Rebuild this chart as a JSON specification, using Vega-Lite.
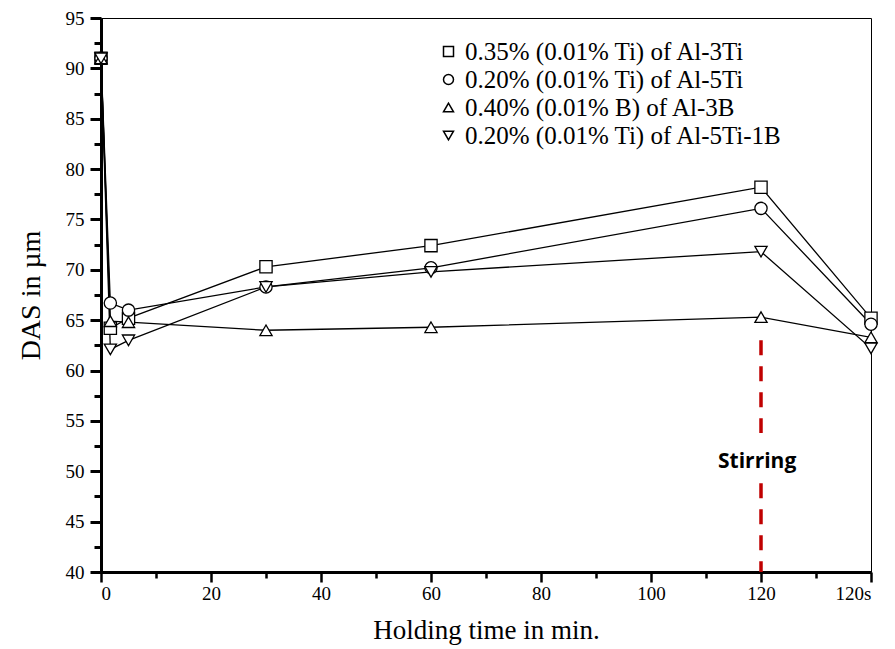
{
  "$schema": "https://vega.github.io/schema/vega-lite/v6.json",
  "width": 770,
  "height": 554,
  "autosize": {"type": "none"},
  "padding": {"left": 101, "top": 18, "right": 24, "bottom": 77},
  "background": "white",
  "config": {
    "view": {"stroke": "black", "strokeWidth": 1},
    "axis": {
      "labelFont": "Liberation Serif",
      "titleFont": "Liberation Serif",
      "labelColor": "black",
      "titleColor": "black",
      "domainColor": "black",
      "tickColor": "black",
      "grid": false,
      "titleFontWeight": "normal"
    }
  },
  "data": {
    "values": [
      {"t": 0, "das": 91, "series": "0.35% (0.01% Ti) of Al-3Ti"},
      {"t": 1.7, "das": 64.2, "series": "0.35% (0.01% Ti) of Al-3Ti"},
      {"t": 5, "das": 65.2, "series": "0.35% (0.01% Ti) of Al-3Ti"},
      {"t": 30, "das": 70.3, "series": "0.35% (0.01% Ti) of Al-3Ti"},
      {"t": 60, "das": 72.4, "series": "0.35% (0.01% Ti) of Al-3Ti"},
      {"t": 120, "das": 78.2, "series": "0.35% (0.01% Ti) of Al-3Ti"},
      {"t": 140, "das": 65.2, "series": "0.35% (0.01% Ti) of Al-3Ti"},
      {"t": 0, "das": 91, "series": "0.20% (0.01% Ti) of Al-5Ti"},
      {"t": 1.7, "das": 66.7, "series": "0.20% (0.01% Ti) of Al-5Ti"},
      {"t": 5, "das": 66.0, "series": "0.20% (0.01% Ti) of Al-5Ti"},
      {"t": 30, "das": 68.3, "series": "0.20% (0.01% Ti) of Al-5Ti"},
      {"t": 60, "das": 70.2, "series": "0.20% (0.01% Ti) of Al-5Ti"},
      {"t": 120, "das": 76.1, "series": "0.20% (0.01% Ti) of Al-5Ti"},
      {"t": 140, "das": 64.6, "series": "0.20% (0.01% Ti) of Al-5Ti"},
      {"t": 0, "das": 91, "series": "0.40% (0.01% B)  of Al-3B"},
      {"t": 1.7, "das": 64.9, "series": "0.40% (0.01% B)  of Al-3B"},
      {"t": 5, "das": 64.8, "series": "0.40% (0.01% B)  of Al-3B"},
      {"t": 30, "das": 64.0, "series": "0.40% (0.01% B)  of Al-3B"},
      {"t": 60, "das": 64.3, "series": "0.40% (0.01% B)  of Al-3B"},
      {"t": 120, "das": 65.3, "series": "0.40% (0.01% B)  of Al-3B"},
      {"t": 140, "das": 63.3, "series": "0.40% (0.01% B)  of Al-3B"},
      {"t": 0, "das": 91, "series": "0.20% (0.01% Ti) of Al-5Ti-1B"},
      {"t": 1.7, "das": 62.1, "series": "0.20% (0.01% Ti) of Al-5Ti-1B"},
      {"t": 5, "das": 63.0, "series": "0.20% (0.01% Ti) of Al-5Ti-1B"},
      {"t": 30, "das": 68.3, "series": "0.20% (0.01% Ti) of Al-5Ti-1B"},
      {"t": 60, "das": 69.8, "series": "0.20% (0.01% Ti) of Al-5Ti-1B"},
      {"t": 120, "das": 71.8, "series": "0.20% (0.01% Ti) of Al-5Ti-1B"},
      {"t": 140, "das": 62.2, "series": "0.20% (0.01% Ti) of Al-5Ti-1B"}
    ]
  },
  "encoding": {
    "x": {
      "field": "t",
      "type": "quantitative",
      "scale": {"domain": [0, 140], "nice": false, "zero": false},
      "axis": {
        "title": "Holding time in min.",
        "titleFontSize": 27,
        "titlePadding": 14,
        "labelFontSize": 19,
        "labelPadding": 2,
        "values": [0, 10, 20, 30, 40, 50, 60, 70, 80, 90, 100, 110, 120, 130, 140],
        "labelExpr": "datum.value == 140 ? '120s' : (datum.value % 20 == 0 ? datum.label : '')",
        "domainWidth": 3,
        "tickWidth": 2.5,
        "tickSize": {"condition": {"test": "datum.value % 20 != 0", "value": 6}, "value": 10}
      }
    },
    "y": {
      "field": "das",
      "type": "quantitative",
      "scale": {"domain": [40, 95], "nice": false, "zero": false},
      "axis": {
        "title": "DAS in µm",
        "titleFontSize": 28,
        "titlePadding": 20,
        "labelFontSize": 19,
        "labelPadding": 6,
        "values": [40, 42.5, 45, 47.5, 50, 52.5, 55, 57.5, 60, 62.5, 65, 67.5, 70, 72.5, 75, 77.5, 80, 82.5, 85, 87.5, 90, 92.5, 95],
        "labelExpr": "datum.value % 5 == 0 ? datum.label : ''",
        "domainWidth": 3,
        "tickWidth": 3,
        "tickSize": {"condition": {"test": "datum.value % 5 != 0", "value": 7}, "value": 11}
      }
    }
  },
  "layer": [
    {
      "mark": {"type": "line", "color": "black", "strokeWidth": 1.3, "clip": true},
      "encoding": {
        "detail": {"field": "series"},
        "order": {"field": "t"}
      }
    },
    {
      "mark": {"type": "point", "filled": true, "color": "white", "stroke": "black", "strokeWidth": 1.3, "size": 150, "opacity": 1},
      "encoding": {
        "shape": {
          "field": "series",
          "type": "nominal",
          "scale": {
            "domain": ["0.35% (0.01% Ti) of Al-3Ti", "0.20% (0.01% Ti) of Al-5Ti", "0.40% (0.01% B)  of Al-3B", "0.20% (0.01% Ti) of Al-5Ti-1B"],
            "range": ["square", "circle", "triangle-up", "triangle-down"]
          },
          "legend": {
            "title": null,
            "orient": "none",
            "legendX": 335,
            "legendY": 21,
            "labelFont": "Liberation Serif",
            "labelFontSize": 25,
            "labelColor": "black",
            "labelLimit": 500,
            "encode": {
              "symbols": {
                "shape": {
                  "condition": [
                    {"test": "datum.index == 0", "value": "M-11.2,0H-6M-4.1,0H1.1M-6,-0.95H-4.1V0.95H-6Z"},
                    {"test": "datum.index == 1", "value": "M-11.2,0H-6.06M-4.06,0H1.1M-6.06,0A1,1,0,1,0,-4.06,0A1,1,0,1,0,-6.06,0Z"},
                    {"test": "datum.index == 2", "value": "M-11.2,0.3H-5.89M-4.23,0.3H1.1M-5.06,-1.05L-3.86,0.9H-6.26Z"}
                  ],
                  "value": "M-11.2,-0.3H-5.89M-4.23,-0.3H1.1M-6.26,-0.9H-3.86L-5.06,1.05Z"
                }
              }
            }
          }
        }
      }
    },
    {
      "data": {
        "values": [
          {"t": 120, "y1": 63.0, "y2": 53.8},
          {"t": 120, "y1": 48.8, "y2": 40}
        ]
      },
      "mark": {"type": "rule", "color": "#c00000", "strokeWidth": 3.5, "strokeDash": [15, 11]},
      "encoding": {
        "x": {"field": "t", "type": "quantitative"},
        "y": {"field": "y1", "type": "quantitative"},
        "y2": {"field": "y2"}
      }
    },
    {
      "data": {"values": [{"t": 119.3, "das": 50.9, "label": "Stirring"}]},
      "mark": {"type": "text", "font": "Open Sans", "fontWeight": "bold", "fontSize": 21, "color": "black", "align": "center", "baseline": "middle"},
      "encoding": {
        "text": {"field": "label"}
      }
    }
  ]
}
